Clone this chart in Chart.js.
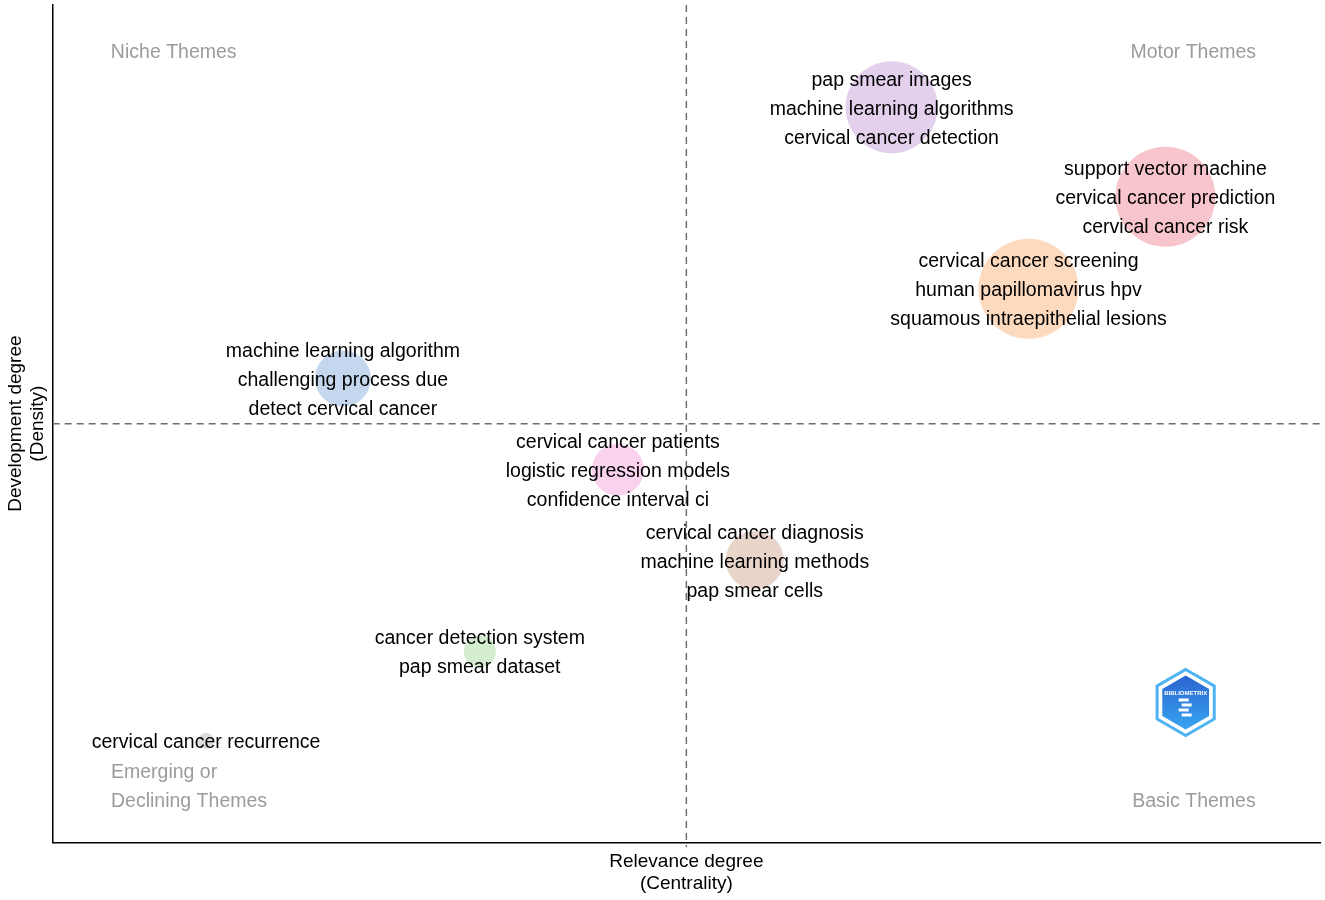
<!DOCTYPE html>
<html>
<head>
<meta charset="utf-8">
<script src="https://cdn.jsdelivr.net/npm/chart.js@4.4.0/dist/chart.umd.min.js"></script>
<style>
  html, body { margin: 0; padding: 0; background: #fff; }
  #wrap { width: 1325px; height: 900px; }
</style>
</head>
<body>
<div id="wrap"><canvas id="map"></canvas></div>
<script>
// Thematic map clusters
const clusterLabels = [
  ['pap smear images', 'machine learning algorithms', 'cervical cancer detection'],
  ['support vector machine', 'cervical cancer prediction', 'cervical cancer risk'],
  ['cervical cancer screening', 'human papillomavirus hpv', 'squamous intraepithelial lesions'],
  ['machine learning algorithm', 'challenging process due', 'detect cervical cancer'],
  ['cervical cancer patients', 'logistic regression models', 'confidence interval ci'],
  ['cervical cancer diagnosis', 'machine learning methods', 'pap smear cells'],
  ['cancer detection system', 'pap smear dataset'],
  ['cervical cancer recurrence']
];
const centrality = [66.2, 87.8, 77.0, 22.9, 44.6, 55.4, 33.7, 12.1];
const density = [87.8, 77.1, 66.1, 55.4, 44.5, 33.7, 22.8, 12.1];
const bubbleSize = [46, 50, 50, 28, 26, 29, 16, 8];
const clusterColors = [
  'rgba(203, 170, 220, 0.55)',
  'rgba(240, 140, 152, 0.5)',
  'rgba(252, 180, 125, 0.5)',
  'rgba(140, 175, 222, 0.5)',
  'rgba(245, 165, 220, 0.5)',
  'rgba(210, 170, 145, 0.5)',
  'rgba(170, 220, 160, 0.5)',
  'rgba(185, 185, 185, 0.5)'
];
const quadrantNames = ['Niche Themes', 'Motor Themes', 'Emerging or\nDeclining Themes', 'Basic Themes'];
const midX = 50;
const midY = 50;

const textFont = '"Liberation Sans", Arial, sans-serif';

const points = centrality.map((x, i) => ({ x: x, y: density[i], r: bubbleSize[i] }));

// dashed cross lines, quadrant names, cluster labels and logo
const mapDecor = {
  id: 'mapDecor',
  beforeDatasetsDraw(chart) {
    const ctx = chart.ctx;
    const xs = chart.scales.x, ys = chart.scales.y;
    const a = chart.chartArea;
    const px = xs.getPixelForValue(midX);
    const py = ys.getPixelForValue(midY);
    ctx.save();
    ctx.strokeStyle = '#6e6e6e';
    ctx.lineWidth = 1.5;
    ctx.setLineDash([7, 5]);
    ctx.beginPath();
    ctx.moveTo(px, a.top);
    ctx.lineTo(px, a.bottom + 5);
    ctx.moveTo(a.left, py);
    ctx.lineTo(a.right, py);
    ctx.stroke();
    ctx.restore();
  },
  afterDatasetsDraw(chart) {
    const ctx = chart.ctx;
    const xs = chart.scales.x, ys = chart.scales.y;
    ctx.save();
    ctx.font = '19.5px ' + textFont;
    ctx.textBaseline = 'middle';

    // quadrant names
    ctx.fillStyle = '#9b9b9b';
    ctx.textAlign = 'center';
    ctx.fillText(quadrantNames[0], xs.getPixelForValue(9.55), ys.getPixelForValue(94.5) + 2);
    ctx.fillText(quadrantNames[1], xs.getPixelForValue(90.0), ys.getPixelForValue(94.5) + 2);
    ctx.fillText(quadrantNames[3], xs.getPixelForValue(90.05), ys.getPixelForValue(5.1) + 2);
    ctx.textAlign = 'left';
    const em = quadrantNames[2].split('\n');
    ctx.fillText(em[0], xs.getPixelForValue(4.6), ys.getPixelForValue(8.6) + 2);
    ctx.fillText(em[1], xs.getPixelForValue(4.6), ys.getPixelForValue(5.1) + 2);

    // cluster labels
    ctx.fillStyle = '#000';
    ctx.textAlign = 'center';
    const lineGap = 29;
    clusterLabels.forEach((lines, i) => {
      const cx = xs.getPixelForValue(centrality[i]);
      const cy = ys.getPixelForValue(density[i]);
      const start = cy - (lines.length - 1) * lineGap / 2;
      lines.forEach((t, j) => ctx.fillText(t, cx, start + j * lineGap + 2));
    });

    // bibliometrix logo
    const lx = xs.getPixelForValue(89.4), ly = ys.getPixelForValue(16.7);
    const hex = (R) => {
      ctx.beginPath();
      for (let k = 0; k < 6; k++) {
        const ang = Math.PI / 180 * (60 * k - 90);
        const hx = lx + R * Math.cos(ang), hy = ly + R * Math.sin(ang);
        if (k === 0) ctx.moveTo(hx, hy); else ctx.lineTo(hx, hy);
      }
      ctx.closePath();
    };
    ctx.lineWidth = 3;
    ctx.strokeStyle = '#4fb2f2';
    hex(33);
    ctx.stroke();
    const grad = ctx.createLinearGradient(lx, ly - 28, lx, ly + 28);
    grad.addColorStop(0, '#2b62d0');
    grad.addColorStop(1, '#37a6f0');
    ctx.fillStyle = grad;
    hex(27);
    ctx.fill();
    ctx.fillStyle = '#ffffff';
    ctx.font = 'bold 6px ' + textFont;
    ctx.fillText('BIBLIOMETRIX', lx, ly - 9);
    ctx.fillRect(lx - 7, ly - 4, 10, 3);
    ctx.fillRect(lx - 4, ly + 1, 10, 3);
    ctx.fillRect(lx - 7, ly + 6, 10, 3);
    ctx.fillRect(lx - 4, ly + 11, 10, 3);
    ctx.restore();
  }
};

new Chart(document.getElementById('map'), {
  type: 'bubble',
  data: {
    datasets: [{
      data: points,
      backgroundColor: clusterColors,
      borderWidth: 0,
      hoverBorderWidth: 0
    }]
  },
  options: {
    responsive: true,
    maintainAspectRatio: false,
    animation: false,
    clip: false,
    layout: { autoPadding: false, padding: { left: 4, right: 5, top: 5, bottom: 1 } },
    plugins: {
      legend: { display: false },
      tooltip: { enabled: false }
    },
    scales: {
      x: {
        type: 'linear',
        min: 0,
        max: 100,
        grid: { display: false, drawTicks: false },
        border: { display: true, color: '#000', width: 1.5 },
        ticks: { display: false },
        title: {
          display: true,
          text: ['Relevance degree', '(Centrality)'],
          color: '#000',
          font: { family: textFont, size: 19, lineHeight: 1.15 },
          padding: { top: 9, bottom: 4 }
        }
      },
      y: {
        type: 'linear',
        min: 0,
        max: 100,
        grid: { display: false, drawTicks: false },
        border: { display: true, color: '#000', width: 1.5 },
        ticks: { display: false },
        title: {
          display: true,
          text: ['Development degree', '(Density)'],
          color: '#000',
          font: { family: textFont, size: 19, lineHeight: 1.15 },
          padding: { top: 1, bottom: 4 }
        }
      }
    }
  },
  plugins: [mapDecor]
});
</script>
</body>
</html>
